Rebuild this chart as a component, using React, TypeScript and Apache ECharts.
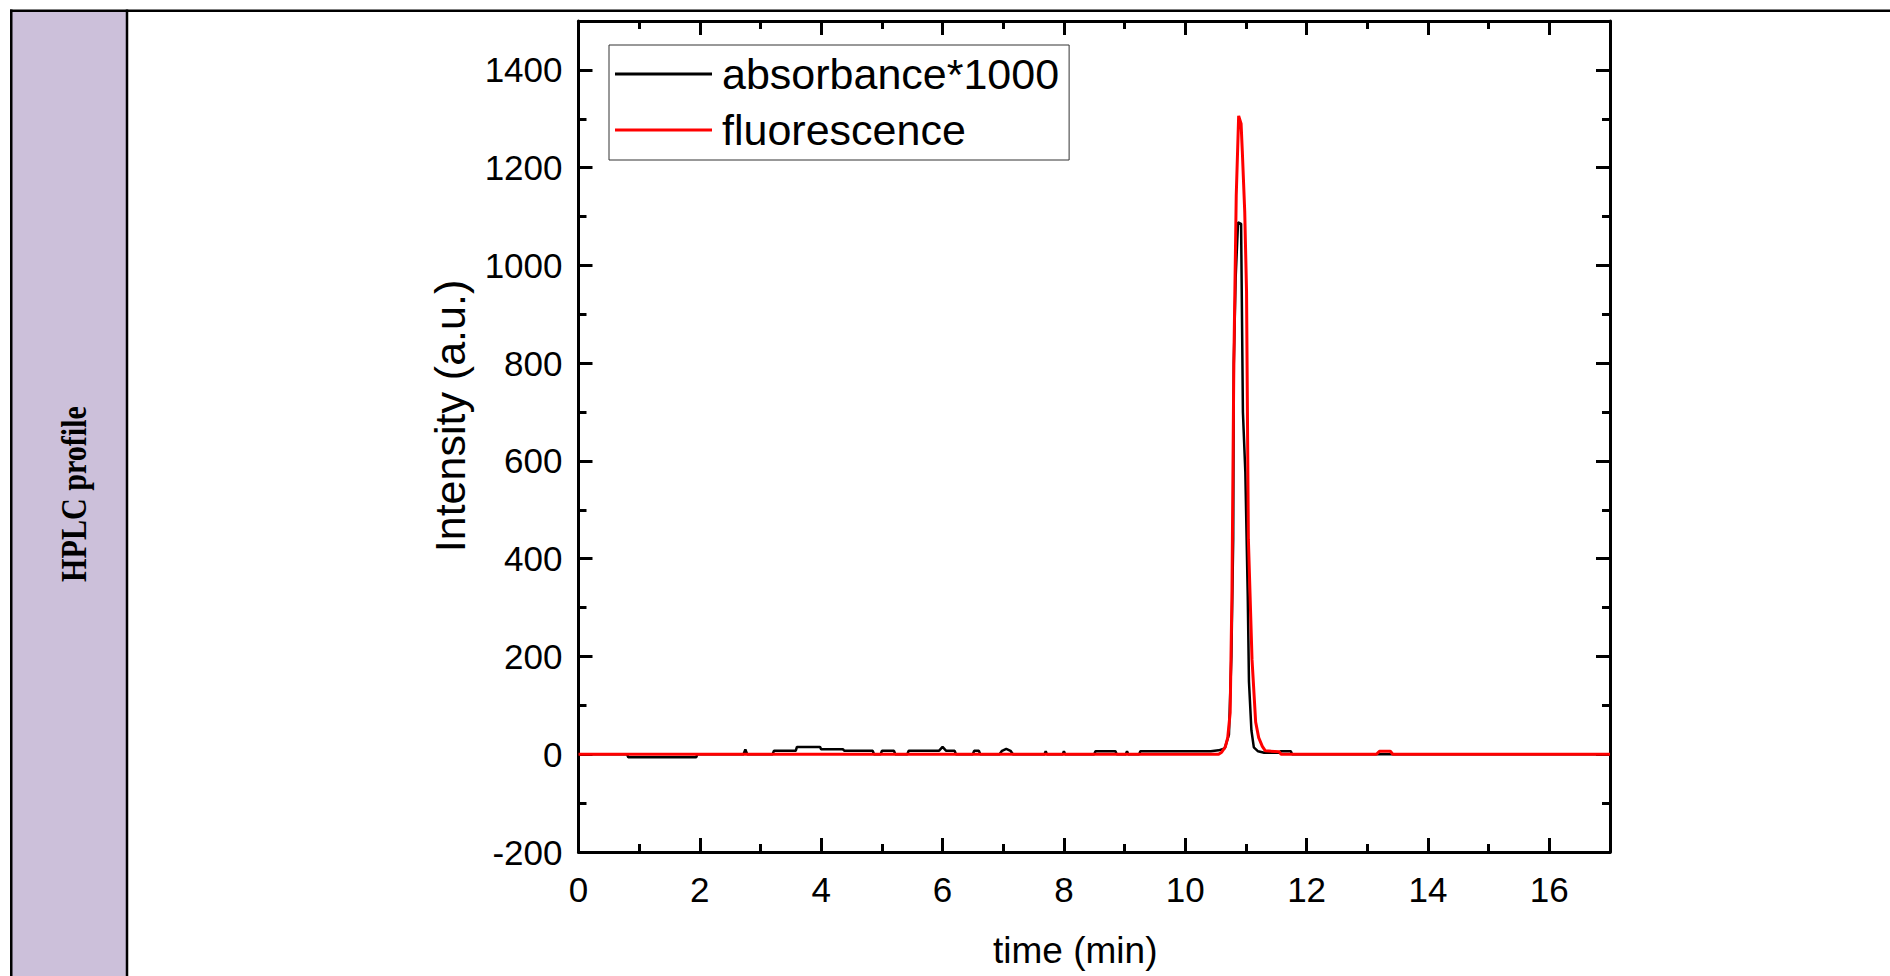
import React, { useEffect, useRef } from "react";
import * as echarts from "echarts";

// ---- data ----
const absTime = [0, 0.8, 0.82, 1.94, 1.96, 2.72, 2.75, 2.78, 3.2, 3.22, 3.58, 3.6, 3.98, 4.0, 4.36, 4.38, 4.85, 4.87, 4.98, 5.0, 5.2, 5.22, 5.42, 5.44, 5.94, 6.0, 6.06, 6.2, 6.22, 6.5, 6.52, 6.6, 6.62, 6.94, 6.98, 7.05, 7.12, 7.16, 7.68, 7.7, 7.72, 7.98, 8.0, 8.02, 8.5, 8.52, 8.85, 8.87, 9.02, 9.04, 9.06, 9.24, 9.26, 10.42, 10.55, 10.65, 10.72, 10.76, 10.79, 10.8, 10.83, 10.87, 10.92, 10.95, 10.99, 11.03, 11.05, 11.09, 11.13, 11.2, 11.3, 11.55, 11.57, 11.74, 11.76, 17];
const absValue = [0, 0, -6, -6, 0, 0, 10, 0, 0, 7, 7, 15, 15, 10, 10, 7, 7, 0, 0, 7, 7, 0, 0, 7, 7, 15, 7, 7, 0, 0, 7, 7, 0, 0, 7, 11, 7, 0, 0, 6, 0, 0, 6, 0, 0, 6, 6, 0, 0, 6, 0, 0, 6, 6, 8, 12, 40, 200, 440, 800, 974, 1088, 1085, 700, 577, 321, 148, 49, 14, 6, 3, 3, 6, 6, 0, 0];

const fluTime = [0, 10.55, 10.6, 10.66, 10.7, 10.74, 10.77, 10.8, 10.84, 10.88, 10.92, 10.94, 10.98, 11.01, 11.04, 11.1, 11.16, 11.21, 11.27, 11.32, 11.55, 11.58, 13.15, 13.2, 13.38, 13.42, 17];
const fluValue = [0, 0, 4, 15, 34, 85, 335, 796, 1142, 1306, 1290, 1234, 1110, 946, 440, 194, 66, 34, 16, 7, 5, 0, 0, 6, 6, 0, 0];

const seriesNames = ["absorbance*1000", "fluorescence"];
const xTitle = "time (min)";
const yTitle = "Intensity (a.u.)";
const rowLabel = "HPLC profile";

const X_MIN = 0, X_MAX = 17, X_MAJOR = 2, X_MINOR = 1;
const Y_MIN = -200, Y_MAX = 1500, Y_MAJOR = 200, Y_MINOR = 100;

const SANS = "'Liberation Sans', Arial, sans-serif";

export default function App() {
  const ref = useRef<HTMLDivElement>(null);

  useEffect(() => {
    if (!ref.current) return;
    const chart = echarts.init(ref.current, null, { renderer: "svg" });

    const absData = absTime.map((t, i) => [t, absValue[i]]);
    const fluData = fluTime.map((t, i) => [t, fluValue[i]]);

    const line = { color: "#000", width: 3 };
    const baseX = { type: "value", min: X_MIN, max: X_MAX, splitLine: { show: false } };
    const baseY = { type: "value", min: Y_MIN, max: Y_MAX, splitLine: { show: false } };
    const hiddenLabel = { show: false };
    const plain = (v: number) => String(v);

    chart.setOption({
      animation: false,
      backgroundColor: "#fff",
      grid: { left: 578.5, top: 21, right: 280, bottom: 124, containLabel: false },
      legend: {
        orient: "vertical",
        left: 609,
        top: 45,
        data: seriesNames,
        icon: "rect",
        itemWidth: 97,
        itemHeight: 3,
        itemGap: 6,
        padding: [4, 10, 5, 6],
        borderColor: "#333",
        borderWidth: 1,
        textStyle: { fontFamily: SANS, fontSize: 43, color: "#000", lineHeight: 50, padding: [0, 0, 0, 5] },
        selectedMode: false,
      },
      xAxis: [
        {
          ...baseX,
          position: "bottom",
          interval: X_MAJOR,
          axisLine: { show: true, onZero: false, lineStyle: line },
          axisTick: { show: true, inside: true, length: 14, lineStyle: line },
          axisLabel: { show: true, fontFamily: SANS, fontSize: 35, color: "#000", margin: 20, showMaxLabel: false, formatter: plain },
          name: xTitle,
          nameLocation: "middle",
          nameGap: 80,
          nameTextStyle: { fontFamily: SANS, fontSize: 37, color: "#000", padding: [0, 38, 0, 0] },
        },
        {
          ...baseX,
          position: "bottom",
          interval: X_MINOR,
          axisLine: { show: false, onZero: false },
          axisTick: { show: true, inside: true, length: 8, lineStyle: line },
          axisLabel: hiddenLabel,
        },
        {
          ...baseX,
          position: "top",
          interval: X_MAJOR,
          axisLine: { show: true, onZero: false, lineStyle: line },
          axisTick: { show: true, inside: true, length: 14, lineStyle: line },
          axisLabel: hiddenLabel,
        },
        {
          ...baseX,
          position: "top",
          interval: X_MINOR,
          axisLine: { show: false, onZero: false },
          axisTick: { show: true, inside: true, length: 8, lineStyle: line },
          axisLabel: hiddenLabel,
        },
      ],
      yAxis: [
        {
          ...baseY,
          position: "left",
          interval: Y_MAJOR,
          axisLine: { show: true, onZero: false, lineStyle: line },
          axisTick: { show: true, inside: true, length: 14, lineStyle: line },
          axisLabel: { show: true, fontFamily: SANS, fontSize: 35, color: "#000", margin: 16, showMaxLabel: false, formatter: plain },
          name: yTitle,
          nameLocation: "middle",
          nameGap: 107,
          nameTextStyle: { fontFamily: SANS, fontSize: 43, color: "#000", padding: [0, 0, 0, 41] },
        },
        {
          ...baseY,
          position: "left",
          interval: Y_MINOR,
          axisLine: { show: false, onZero: false },
          axisTick: { show: true, inside: true, length: 8, lineStyle: line },
          axisLabel: hiddenLabel,
        },
        {
          ...baseY,
          position: "right",
          interval: Y_MAJOR,
          axisLine: { show: true, onZero: false, lineStyle: line },
          axisTick: { show: true, inside: true, length: 14, lineStyle: line },
          axisLabel: hiddenLabel,
        },
        {
          ...baseY,
          position: "right",
          interval: Y_MINOR,
          axisLine: { show: false, onZero: false },
          axisTick: { show: true, inside: true, length: 8, lineStyle: line },
          axisLabel: hiddenLabel,
        },
      ],
      series: [
        {
          name: seriesNames[0],
          type: "line",
          xAxisIndex: 0,
          yAxisIndex: 0,
          data: absData,
          showSymbol: false,
          symbol: "none",
          color: "#000000",
          lineStyle: { color: "#000000", width: 2.5 },
          z: 2,
        },
        {
          name: seriesNames[1],
          type: "line",
          xAxisIndex: 0,
          yAxisIndex: 0,
          data: fluData,
          showSymbol: false,
          symbol: "none",
          color: "#ff0000",
          lineStyle: { color: "#ff0000", width: 3 },
          z: 3,
        },
      ],
      graphic: [
        { type: "rect", shape: { x: 12, y: 12, width: 114, height: 964 }, style: { fill: "#CCC0DA" }, silent: true },
        { type: "line", shape: { x1: 10, y1: 10.75, x2: 1890, y2: 10.75 }, style: { stroke: "#000", lineWidth: 2.5 } },
        { type: "line", shape: { x1: 11.25, y1: 9.5, x2: 11.25, y2: 976 }, style: { stroke: "#000", lineWidth: 2.5 } },
        { type: "line", shape: { x1: 127, y1: 9.5, x2: 127, y2: 976 }, style: { stroke: "#000", lineWidth: 2.5 } },
        {
          type: "text",
          x: 74,
          y: 494,
          rotation: Math.PI / 2,
          scaleX: 0.86,
          style: {
            text: rowLabel,
            font: "bold 35px 'Liberation Serif', 'Times New Roman', serif",
            fill: "#000",
            align: "center",
            verticalAlign: "middle",
          },
        },
      ],
    });

    return () => chart.dispose();
  }, []);

  return (
    <div
      ref={ref}
      style={{ position: "fixed", left: 0, top: 0, width: 1890, height: 976, background: "#fff" }}
    />
  );
}
